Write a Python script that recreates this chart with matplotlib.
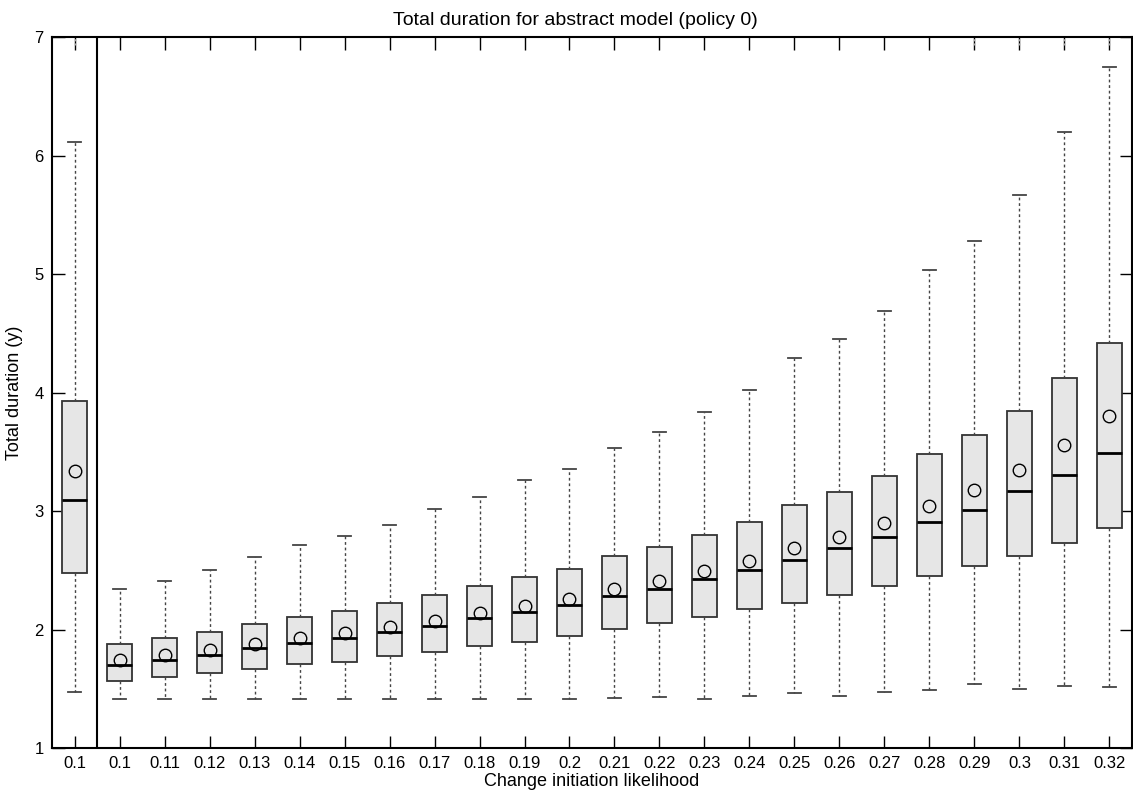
import numpy as np
import matplotlib; matplotlib.use("Agg")
import matplotlib.pyplot as plt

plt.rcParams["font.family"] = ["Liberation Sans", "DejaVu Sans"]

LABELS = ["0.1", "0.1", "0.11", "0.12", "0.13", "0.14", "0.15", "0.16", "0.17", "0.18", "0.19", "0.2",
          "0.21", "0.22", "0.23", "0.24", "0.25", "0.26", "0.27", "0.28", "0.29", "0.3", "0.31", "0.32"]
WHI = [6.11, 2.34, 2.41, 2.505, 2.614, 2.713, 2.789, 2.886, 3.017, 3.116, 3.264, 3.357,
       3.534, 3.67, 3.835, 4.02, 4.295, 4.45, 4.69, 5.03, 5.28, 5.665, 6.2, 6.745]
Q3 = [3.93, 1.875, 1.926, 1.98, 2.046, 2.108, 2.156, 2.221, 2.29, 2.367, 2.443, 2.511,
      2.618, 2.70, 2.80, 2.91, 3.055, 3.16, 3.295, 3.48, 3.64, 3.84, 4.12, 4.415]
MED = [3.09, 1.70, 1.745, 1.787, 1.841, 1.883, 1.931, 1.979, 2.03, 2.094, 2.145, 2.204,
       2.283, 2.345, 2.425, 2.50, 2.59, 2.685, 2.78, 2.905, 3.01, 3.17, 3.305, 3.49]
Q1 = [2.48, 1.565, 1.597, 1.63, 1.664, 1.706, 1.73, 1.774, 1.808, 1.863, 1.892, 1.943,
      2.004, 2.055, 2.105, 2.17, 2.225, 2.295, 2.365, 2.45, 2.54, 2.62, 2.73, 2.86]
MEAN = [3.34, 1.745, 1.785, 1.827, 1.878, 1.928, 1.97, 2.024, 2.074, 2.142, 2.198, 2.26,
        2.342, 2.41, 2.495, 2.58, 2.685, 2.78, 2.895, 3.04, 3.175, 3.35, 3.555, 3.805]
WLO = [1.47, 1.41, 1.41, 1.41, 1.41, 1.41, 1.41, 1.41, 1.41, 1.41, 1.41, 1.41,
       1.42, 1.43, 1.413, 1.439, 1.464, 1.439, 1.475, 1.492, 1.54, 1.498, 1.523, 1.517]
# positions whose outliers run off the top of the axes (clipped at y=7)
CLIPPED = [1, 21, 22, 23, 24]

stats = [dict(med=m, q1=a, q3=b, whislo=lo, whishi=hi, mean=mu, fliers=[])
         for m, a, b, lo, hi, mu in zip(MED, Q1, Q3, WLO, WHI, MEAN)]
pos = np.arange(1, len(LABELS) + 1)

fig = plt.figure(figsize=(11.33, 7.93), dpi=100)
ax = fig.add_axes([0.046, 0.0567, 0.953, 0.8966])
ax.bxp(stats, positions=pos, widths=0.56, showmeans=True, patch_artist=True,
       boxprops=dict(facecolor="#e6e6e6", edgecolor="#333333", lw=1.3),
       medianprops=dict(color="black", lw=2),
       whiskerprops=dict(color="#444444", lw=1, ls=(0, (2, 2))),
       capprops=dict(color="#444444", lw=1.3), capwidths=0.28,
       meanprops=dict(marker="o", markerfacecolor="none", markeredgecolor="black",
                      markersize=9, markeredgewidth=1))
ax.vlines(CLIPPED, 6.93, 7.0, colors="#aaaaaa", lw=1, ls=(0, (1.5, 1.5)))
ax.axvline(1.5, color="black", lw=1.5)

ax.set_xlim(0.5, 24.5); ax.set_ylim(1, 7)
ax.set_xticks(pos); ax.set_xticklabels(LABELS)
ax.set_yticks(range(1, 8))
ax.tick_params(direction="in", length=9, width=1, top=True, right=True, labelsize=12, pad=6)
for s in ax.spines.values(): s.set_linewidth(1.5)
ax.set_title("Total duration for abstract model (policy 0)", fontsize=14, pad=9, x=0.485)
ax.set_xlabel("Change initiation likelihood", fontsize=13, labelpad=1)
ax.set_ylabel("Total duration (y)", fontsize=13, labelpad=8)
fig.savefig("out.png", dpi=100)
